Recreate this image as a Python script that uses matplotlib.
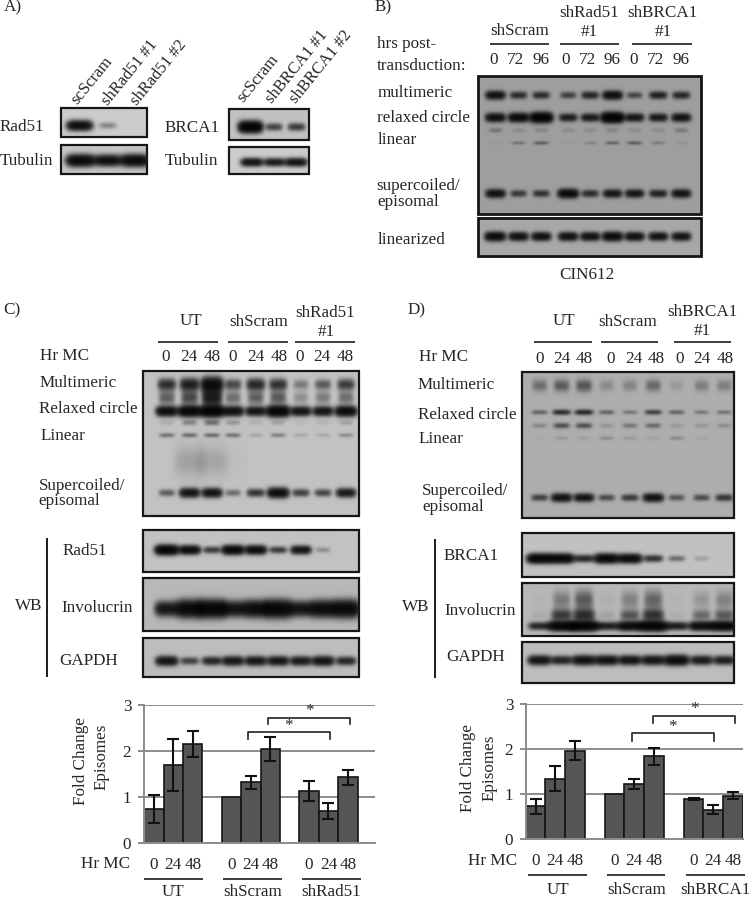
import numpy as np
import matplotlib
matplotlib.use("Agg")
import matplotlib.pyplot as plt

plt.rcParams['font.family'] = ['Liberation Serif', 'DejaVu Serif']

# ---------- quantified bar data ----------
tick_hours = ['0', '24', '48']
C_groups = ['UT', 'shScram', 'shRad51']
C_values = [0.75, 1.70, 2.15, 1.00, 1.32, 2.05, 1.13, 0.70, 1.43]
C_errors = [0.30, 0.57, 0.28, 0.00, 0.15, 0.26, 0.22, 0.17, 0.16]
D_groups = ['UT', 'shScram', 'shBRCA1']
D_values = [0.73, 1.35, 1.97, 1.00, 1.23, 1.85, 0.89, 0.66, 0.97]
D_errors = [0.17, 0.28, 0.21, 0.00, 0.11, 0.19, 0.02, 0.10, 0.08]
y_ticks = [0, 1, 2, 3]

# ---------- band strengths read from the blots ----------
A_rad51 = [1.0, 0.16, 0.0]
A_tub1 = [1.1, 0.95, 1.1]
A_brca = [1.4, 0.4, 0.45]
A_tub2 = [0.85, 0.75, 0.85]
B_multi = [0.85, 0.5, 0.5, 0.36, 0.55, 0.9, 0.32, 0.6, 0.55]
B_relax = [0.9, 1.0, 1.3, 0.65, 0.7, 1.4, 0.75, 0.7, 0.8]
B_faint = [0.12, 0.05, 0.07, 0.05, 0.05, 0.07, 0.05, 0.05, 0.1]
B_linear = [0.02, 0.12, 0.2, 0.01, 0.07, 0.17, 0.2, 0.1, 0.03]
B_super = [0.85, 0.4, 0.45, 1.0, 0.5, 0.75, 0.75, 0.6, 0.8]
B_lin2 = [1.0, 0.85, 0.85, 0.85, 0.85, 1.0, 0.85, 0.8, 0.8]
C_multi = [0.55, 0.7, 1.05, 0.38, 0.6, 0.52, 0.18, 0.3, 0.45]
C_multi2 = [0.28, 0.38, 0.75, 0.22, 0.28, 0.3, 0.12, 0.18, 0.22]
C_relax = [1.0, 1.2, 1.4, 0.95, 0.85, 1.25, 0.85, 0.85, 1.05]
C_faint = [0.05, 0.15, 0.22, 0.1, 0.04, 0.07, 0.02, 0.03, 0.07]
C_linear = [0.2, 0.22, 0.22, 0.2, 0.06, 0.16, 0.06, 0.06, 0.12]
C_super = [0.28, 0.85, 0.85, 0.22, 0.5, 1.0, 0.42, 0.38, 0.75]
C_smear = [0.0, 0.07, 0.06, 0.01, 0.0, 0.0, 0.0, 0.0, 0.0]
C_wb1 = [1.25, 1.0, 0.45, 1.1, 1.0, 0.45, 0.85, 0.12, 0.0]
C_wb2 = [0.8, 1.15, 1.2, 0.9, 1.05, 1.2, 0.85, 1.05, 1.15]
C_wb3 = [0.85, 0.4, 0.6, 0.8, 0.8, 0.8, 0.75, 0.85, 0.6]
D_multi = [0.18, 0.25, 0.28, 0.09, 0.11, 0.2, 0.05, 0.13, 0.13]
D_relax = [0.22, 0.5, 0.55, 0.22, 0.14, 0.38, 0.22, 0.14, 0.16]
D_faint = [0.1, 0.3, 0.3, 0.06, 0.15, 0.2, 0.05, 0.06, 0.08]
D_linear = [0.01, 0.05, 0.03, 0.08, 0.05, 0.03, 0.09, 0.02, 0.0]
D_super = [0.38, 0.85, 0.8, 0.32, 0.42, 0.85, 0.28, 0.32, 0.45]
D_wb1 = [1.2, 1.15, 0.6, 1.15, 1.05, 0.5, 0.22, 0.07, 0.0]
D_wb2 = [0.6, 1.2, 1.3, 0.7, 1.05, 1.3, 0.7, 1.0, 1.15]
D_wb2m = [0.03, 0.45, 0.55, 0.05, 0.3, 0.5, 0.02, 0.22, 0.28]
D_wb2s = [0.01, 0.16, 0.28, 0.02, 0.14, 0.24, 0.01, 0.08, 0.14]
D_wb3 = [0.85, 0.65, 0.9, 0.9, 0.85, 0.85, 1.05, 0.75, 0.7]

BG = '#262626'
W, H = 750, 901
fig = plt.figure(figsize=(W / 100, H / 100), dpi=100, facecolor='white')
ov = fig.add_axes([0, 0, 1, 1], zorder=5)
ov.set_xlim(0, W)
ov.set_ylim(H, 0)
ov.axis('off')
ov.patch.set_alpha(0)


def blot(x0, y0, x1, y1, gray, lanes, bands, w, lw=1.6):
    xs = np.arange(x0, x1, 0.5)
    ys = np.arange(y0, y1, 0.5)
    X, Y = np.meshgrid(xs, ys)
    dark = np.zeros_like(X)
    for yc, sig, amps, *scale in bands:
        k = scale[0] if scale else 1.0
        for cx, a in zip(lanes, amps):
            ww = k * w * (0.6 + 0.34 * min(a, 1.3))
            dark += a * np.exp(-np.abs((X - cx) / ww) ** 4) * np.exp(-((Y - yc) / (sig * (0.6 + 0.4 * min(a, 1.3)))) ** 2)
    img = gray * np.exp(-2.6 * dark)
    ov.imshow(img, extent=(x0, x1, y1, y0), cmap='gray', vmin=0, vmax=1,
              aspect='auto', interpolation='bilinear', zorder=1)
    ov.add_patch(plt.Rectangle((x0, y0), x1 - x0, y1 - y0, fill=False,
                               ec='#161616', lw=lw, zorder=2))


def label(x, y, s, ha='left', **kw):
    ov.text(x, y, s, ha=ha, va='center', fontsize=12.3, color=BG, zorder=4, **kw)


def hline(x0, x1, y, lw=1.2):
    ov.plot([x0, x1], [y, y], color='#1c1c1c', lw=lw, zorder=4, solid_capstyle='butt')


def vline(x, y0, y1, lw=1.4):
    ov.plot([x, x], [y0, y1], color='#1c1c1c', lw=lw, zorder=4, solid_capstyle='butt')


def bracket(x0, x1, y, drop):
    ov.plot([x0, x0, x1, x1], [y + drop, y, y, y + drop], color='#222222', lw=1.2, zorder=6)


# ---------- Panel A ----------
label(4, 7, 'A)')
L1 = [79, 107, 135]
blot(60.7, 108, 147, 137, .80, L1, [(125.3, 4.5, A_rad51)], 13)
blot(60.7, 144.7, 147, 174, .78, [80, 107, 134], [(160.7, 5, A_tub1)], 14)
blot(228.7, 109, 308.7, 140, .76, [250, 273.5, 296], [(126.7, 4.5, A_brca)], 11)
blot(228.7, 147, 308.7, 174, .80, [251.5, 274, 295.5], [(162, 4, A_tub2)], 12)
for x, y, s in [(77, 105, 'scScram'), (108, 106, 'shRad51 #1'), (137, 106, 'shRad51 #2'),
                (243, 103, 'scScram'), (272, 104, 'shBRCA1 #1'), (296, 104, 'shBRCA1 #2')]:
    ov.text(x, y, s, rotation=51, rotation_mode='anchor', ha='left', va='baseline',
            fontsize=12, color=BG, zorder=4)
label(0, 127, 'Rad51')
label(0, 161, 'Tubulin')
label(165, 128, 'BRCA1')
label(165, 161, 'Tubulin')

# ---------- Panel B ----------
label(375, 7, 'B)')
LB = [495.3, 518.3, 541, 568, 590, 612.3, 634.3, 658, 681]
blot(478, 76, 700.7, 214, .62, LB,
     [(95, 4, B_multi), (117.3, 4, B_relax), (130, 3.5, B_faint), (142.7, 2.5, B_linear), (193.3, 4, B_super)], 10.5, lw=2)
blot(478, 217.7, 700.7, 256, .66, [495, 518.3, 541, 568, 590, 612.3, 634.3, 658, 681],
     [(236.7, 4, B_lin2)], 10.5, lw=2)
label(519.5, 31, 'shScram', ha='center')
hline(489.5, 549, 43.5)
label(589, 13, 'shRad51', ha='center')
label(589, 32, '#1', ha='center')
hline(560, 619, 43.5)
label(662, 13, 'shBRCA1', ha='center')
label(663, 32, '#1', ha='center')
hline(632, 692, 43.5)
label(377, 44, 'hrs post-')
label(377, 66, 'transduction:')
for x, s in zip([494, 515.7, 541, 565.7, 587.3, 612.3, 633.3, 655, 680.7],
                ['0', '72', '96'] * 3):
    label(x, 60, s, ha='center')
for x, y, s in [(378, 93, 'multimeric'), (376.7, 118, 'relaxed circle'), (378, 140, 'linear'),
                (376.7, 186, 'supercoiled/'), (377, 202, 'episomal'), (377.7, 240, 'linearized')]:
    label(x, y, s)
label(587, 275, 'CIN612', ha='center')

# ---------- Panel C ----------
label(3, 310, 'C)')
LC = [166.3, 189, 211.3, 232.3, 255, 277.3, 300, 322, 345]
blot(142.7, 370.7, 359, 516.3, .76, LC,
     [(385, 6.5, C_multi), (398, 9, C_multi2), (411.7, 4.5, C_relax), (423, 4, C_faint),
      (435.7, 3, C_linear), (493.3, 4.5, C_super), (462, 24, C_smear, 2.2)], 11)
blot(142.7, 530.3, 359, 572.3, .76, LC, [(550, 4, C_wb1)], 11)
blot(142.7, 577.7, 359, 631, .72, LC, [(609, 7, C_wb2)], 13)
blot(142.7, 638.3, 359, 676.7, .74, LC, [(660.7, 4.5, C_wb3)], 12)
label(191, 321, 'UT', ha='center')
hline(158, 218, 342)
label(259, 322, 'shScram', ha='center')
hline(228, 288, 342)
label(325, 313, 'shRad51', ha='center')
label(326, 332, '#1', ha='center')
hline(295, 355, 342)
label(39.7, 356, 'Hr MC')
for x, s in zip([166, 189, 212, 233, 256, 279, 300, 322, 345], tick_hours * 3):
    label(x, 357, s, ha='center')
for x, y, s in [(39.7, 383, 'Multimeric'), (38.7, 409, 'Relaxed circle'), (40.7, 436, 'Linear'),
                (38.7, 486, 'Supercoiled/'), (38.7, 501, 'episomal')]:
    label(x, y, s)
label(15, 606, 'WB')
vline(46.5, 538, 677)
label(63, 551, 'Rad51')
label(61, 608, 'Involucrin')
label(59, 661, 'GAPDH')

# ---------- Panel D ----------
label(408, 310, 'D)')
LD = [539.7, 561.7, 584, 606.7, 630, 653.3, 676.7, 701.7, 724.3]
blot(522.3, 372.3, 734.3, 518.3, .68, LD,
     [(385.7, 8, D_multi), (412.3, 3, D_relax), (425.7, 3.5, D_faint), (438.3, 3, D_linear),
      (497.7, 4, D_super)], 11)
blot(522.3, 533, 734.3, 577, .76, LD, [(558.3, 4, D_wb1)], 12)
blot(522.3, 583.3, 734.3, 635.7, .72, LD,
     [(625.7, 4, D_wb2), (615, 7, D_wb2m), (600, 13, D_wb2s)], 13)
blot(522.3, 641.7, 734.3, 683.3, .74, LD, [(660.7, 4.5, D_wb3)], 12.5)
label(563.7, 321, 'UT', ha='center')
hline(534, 592, 342)
label(628, 322, 'shScram', ha='center')
hline(601, 658, 342)
label(702.7, 312, 'shBRCA1', ha='center')
label(702, 331, '#1', ha='center')
hline(674, 731, 342)
label(419, 357, 'Hr MC')
for x, s in zip([539.7, 562, 584.3, 610.7, 633.7, 655.7, 679.3, 702.3, 725], tick_hours * 3):
    label(x, 359, s, ha='center')
for x, y, s in [(417.7, 385, 'Multimeric'), (417.7, 415, 'Relaxed circle'), (418.3, 439, 'Linear'),
                (422, 491, 'Supercoiled/'), (422, 507, 'episomal')]:
    label(x, y, s)
label(402, 607, 'WB')
vline(434.5, 539, 678)
label(444, 556, 'BRCA1')
label(444, 611, 'Involucrin')
label(446, 657, 'GAPDH')


# ---------- Bar charts ----------
def barchart(left, right, y0px, y3px, xmin, xmax, values, errors):
    ax = fig.add_axes([left / W, 1 - y0px / H, (right - left) / W, (y0px - y3px) / H], zorder=3)
    ax.patch.set_alpha(0)
    pos = np.array([0, 1, 2, 4, 5, 6, 8, 9, 10], dtype=float)
    ax.set_xlim(xmin, xmax)
    ax.set_ylim(0, 3)
    ax.set_yticks(y_ticks)
    ax.set_yticklabels([str(t) for t in y_ticks], fontsize=12.3, color=BG)
    ax.set_xticks(pos)
    ax.set_xticklabels(tick_hours * 3, fontsize=12.3, color=BG)
    ax.tick_params(axis='x', length=0, pad=10)
    ax.tick_params(axis='y', length=4, width=1.4, color='#8c8c8c', pad=5)
    ax.grid(axis='y', color='#8c8c8c', lw=1.4, zorder=0)
    ax.set_axisbelow(True)
    for s in ['top', 'right']:
        ax.spines[s].set_visible(False)
    for s in ['left', 'bottom']:
        ax.spines[s].set_color('#8c8c8c')
        ax.spines[s].set_linewidth(1.4)
    ax.bar(pos, values, width=1.0, color='#555555', edgecolor='#151515', lw=1.2, zorder=2)
    for p, v, e in zip(pos, values, errors):
        if e > 0:
            ax.errorbar(p, v, yerr=e, color='#111111', lw=1.5, capsize=4.5, capthick=1.5, zorder=3)
    return ax


barchart(143.7, 375, 843.3, 705, -0.53, 11.4, C_values, C_errors)
barchart(525.7, 743, 839.3, 704.3, -0.5, 10.5, D_values, D_errors)

ov.text(81, 761, 'Fold Change', rotation=90, ha='center', va='center', fontsize=12.3, color=BG, zorder=4)
ov.text(102, 757, 'Episomes', rotation=90, ha='center', va='center', fontsize=12.3, color=BG, zorder=4)
label(81, 864, 'Hr MC')
for (a, b), x, s in zip([(144, 202.7), (222.7, 281.7), (302, 360.7)], [173, 253, 331], C_groups):
    hline(a, b, 879.3)
    label(x, 891.5, s, ha='center')
bracket(247.7, 330, 731.7, 7.5)
bracket(268.3, 350, 717.7, 6.5)
label(288, 726, '*', ha='center')
label(309, 711, '*', ha='center')

ov.text(468, 768, 'Fold Change', rotation=90, ha='center', va='center', fontsize=12.3, color=BG, zorder=4)
ov.text(490, 768, 'Episomes', rotation=90, ha='center', va='center', fontsize=12.3, color=BG, zorder=4)
label(467.7, 861, 'Hr MC')
for (a, b), x, s in zip([(528, 587), (607, 665), (686, 745)], [557.7, 637, 715.3], D_groups):
    hline(a, b, 875)
    label(x, 890, s, ha='center')
bracket(632.3, 714.3, 733.3, 7.5)
bracket(652.7, 735, 716.3, 7)
label(672, 727, '*', ha='center')
label(694, 709, '*', ha='center')

ov.set_xlim(0, W)
ov.set_ylim(H, 0)
fig.savefig('out.png', dpi=100, facecolor='white')
